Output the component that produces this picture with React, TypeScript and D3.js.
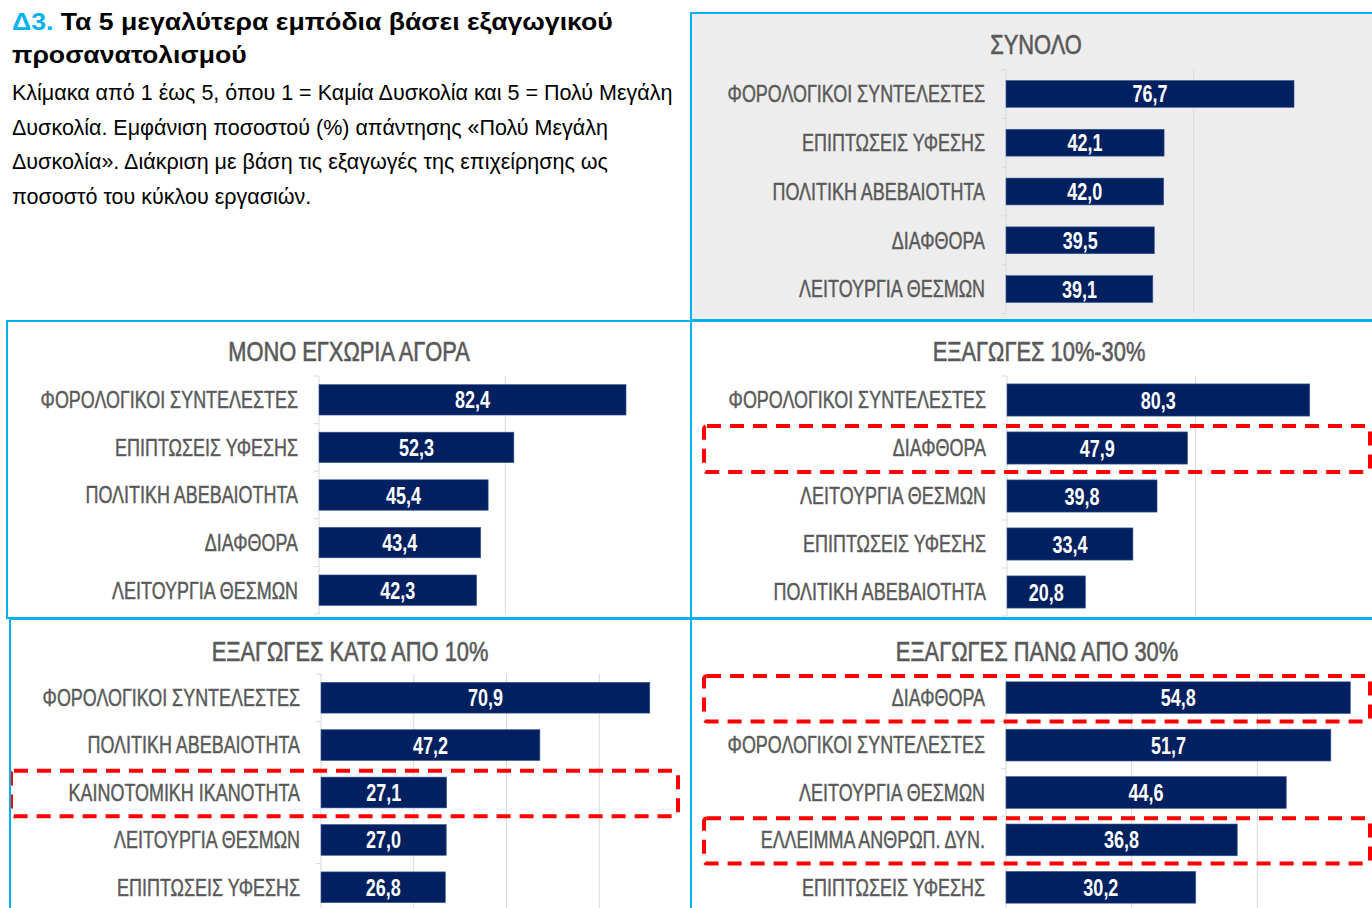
import React from "react";
import * as d3 from "d3";

const panelTitles = [
  "ΣΥΝΟΛΟ",
  "ΜΟΝΟ ΕΓΧΩΡΙΑ ΑΓΟΡΑ",
  "ΕΞΑΓΩΓΕΣ 10%-30%",
  "ΕΞΑΓΩΓΕΣ ΚΑΤΩ ΑΠΟ 10%",
  "ΕΞΑΓΩΓΕΣ ΠΑΝΩ ΑΠΟ 30%",
];

const totalCategories = ["ΦΟΡΟΛΟΓΙΚΟΙ ΣΥΝΤΕΛΕΣΤΕΣ", "ΕΠΙΠΤΩΣΕΙΣ ΥΦΕΣΗΣ", "ΠΟΛΙΤΙΚΗ ΑΒΕΒΑΙΟΤΗΤΑ", "ΔΙΑΦΘΟΡΑ", "ΛΕΙΤΟΥΡΓΙΑ ΘΕΣΜΩΝ"];
const totalValues = [76.7, 42.1, 42.0, 39.5, 39.1];

const domesticCategories = ["ΦΟΡΟΛΟΓΙΚΟΙ ΣΥΝΤΕΛΕΣΤΕΣ", "ΕΠΙΠΤΩΣΕΙΣ ΥΦΕΣΗΣ", "ΠΟΛΙΤΙΚΗ ΑΒΕΒΑΙΟΤΗΤΑ", "ΔΙΑΦΘΟΡΑ", "ΛΕΙΤΟΥΡΓΙΑ ΘΕΣΜΩΝ"];
const domesticValues = [82.4, 52.3, 45.4, 43.4, 42.3];

const midCategories = ["ΦΟΡΟΛΟΓΙΚΟΙ ΣΥΝΤΕΛΕΣΤΕΣ", "ΔΙΑΦΘΟΡΑ", "ΛΕΙΤΟΥΡΓΙΑ ΘΕΣΜΩΝ", "ΕΠΙΠΤΩΣΕΙΣ ΥΦΕΣΗΣ", "ΠΟΛΙΤΙΚΗ ΑΒΕΒΑΙΟΤΗΤΑ"];
const midValues = [80.3, 47.9, 39.8, 33.4, 20.8];

const lowCategories = ["ΦΟΡΟΛΟΓΙΚΟΙ ΣΥΝΤΕΛΕΣΤΕΣ", "ΠΟΛΙΤΙΚΗ ΑΒΕΒΑΙΟΤΗΤΑ", "ΚΑΙΝΟΤΟΜΙΚΗ ΙΚΑΝΟΤΗΤΑ", "ΛΕΙΤΟΥΡΓΙΑ ΘΕΣΜΩΝ", "ΕΠΙΠΤΩΣΕΙΣ ΥΦΕΣΗΣ"];
const lowValues = [70.9, 47.2, 27.1, 27.0, 26.8];

const highCategories = ["ΔΙΑΦΘΟΡΑ", "ΦΟΡΟΛΟΓΙΚΟΙ ΣΥΝΤΕΛΕΣΤΕΣ", "ΛΕΙΤΟΥΡΓΙΑ ΘΕΣΜΩΝ", "ΕΛΛΕΙΜΜΑ ΑΝΘΡΩΠ. ΔΥΝ.", "ΕΠΙΠΤΩΣΕΙΣ ΥΦΕΣΗΣ"];
const highValues = [54.8, 51.7, 44.6, 36.8, 30.2];

const midHighlights = ["ΔΙΑΦΘΟΡΑ"];
const lowHighlights = ["ΚΑΙΝΟΤΟΜΙΚΗ ΙΚΑΝΟΤΗΤΑ"];
const highHighlights = ["ΔΙΑΦΘΟΡΑ", "ΕΛΛΕΙΜΜΑ ΑΝΘΡΩΠ. ΔΥΝ."];

const ticks100 = [0, 50, 100];
const ticks80 = [0, 20, 40, 60, 80];
const ticks60 = [0, 20, 40, 60];

const headingPrefix = "Δ3.";
const headingLines = ["Τα 5 μεγαλύτερα εμπόδια βάσει εξαγωγικού", "προσανατολισμού"];
const bodyLines = [
  "Κλίμακα από 1 έως 5, όπου 1 = Καμία Δυσκολία και 5 = Πολύ Μεγάλη",
  "Δυσκολία. Εμφάνιση ποσοστού (%) απάντησης «Πολύ Μεγάλη",
  "Δυσκολία». Διάκριση με βάση τις εξαγωγές της επιχείρησης ως",
  "ποσοστό του κύκλου εργασιών.",
];

const NAVY = "#002060";
const GRAY = "#595959";
const CYAN = "#00B0F0";
const GRID = "#D9D9D9";
const SANS = "'Liberation Sans', Arial, sans-serif";

type NTextProps = {
  x: number;
  y: number;
  size: number;
  sx: number;
  anchor?: "start" | "middle" | "end";
  weight?: string;
  fill: string;
  halo?: number;
  children: React.ReactNode;
};

function NText({ x, y, size, sx, anchor = "start", weight = "normal", fill, halo = 0, children }: NTextProps) {
  return (
    <text transform={`translate(${x},${y}) scale(${sx},1)`} textAnchor={anchor} fontFamily={SANS}
      fontSize={size} fontWeight={weight} fill={fill}
      stroke={halo > 0 ? fill : "none"} strokeWidth={halo}>
      {children}
    </text>
  );
}

type PanelCfg = {
  title: string;
  cats: string[];
  vals: number[];
  ticks: number[];
  highlights: string[];
  box: { x: number; y: number; w: number; h: number; fill: string };
  titleX: number;
  titleY: number;
  x0: number;
  x1: number;
  y0: number;
  y1: number;
  pad: number;
  hlX0: number;
  hlX1: number;
};

const panels: PanelCfg[] = [
  { title: panelTitles[0], cats: totalCategories, vals: totalValues, ticks: ticks100, highlights: [],
    box: { x: 691, y: 13, w: 690, h: 307, fill: "#EDEDED" }, titleX: 1036, titleY: 54,
    x0: 1006, x1: 1381.5, y0: 69.5, y1: 313.5, pad: 0.45, hlX0: 0, hlX1: 0 },
  { title: panelTitles[1], cats: domesticCategories, vals: domesticValues, ticks: ticks100, highlights: [],
    box: { x: 7, y: 321, w: 684, h: 297, fill: "#FFFFFF" }, titleX: 349, titleY: 361,
    x0: 319, x1: 691.6, y0: 376, y1: 614, pad: 0.36, hlX0: 0, hlX1: 0 },
  { title: panelTitles[2], cats: midCategories, vals: midValues, ticks: ticks100, highlights: midHighlights,
    box: { x: 691, y: 321, w: 690, h: 297, fill: "#FFFFFF" }, titleX: 1039, titleY: 361,
    x0: 1007, x1: 1384, y0: 376, y1: 616, pad: 0.33, hlX0: 704, hlX1: 1370 },
  { title: panelTitles[3], cats: lowCategories, vals: lowValues, ticks: ticks80, highlights: lowHighlights,
    box: { x: 10, y: 619, w: 681, h: 300, fill: "#FFFFFF" }, titleX: 350, titleY: 661,
    x0: 321, x1: 692, y0: 674, y1: 911, pad: 0.35, hlX0: 11, hlX1: 678 },
  { title: panelTitles[4], cats: highCategories, vals: highValues, ticks: ticks60, highlights: highHighlights,
    box: { x: 691, y: 619, w: 690, h: 300, fill: "#FFFFFF" }, titleX: 1037, titleY: 661,
    x0: 1006, x1: 1383, y0: 674, y1: 911, pad: 0.33, hlX0: 704, hlX1: 1370 },
];

function Panel({ p, idx }: { p: PanelCfg; idx: number }) {
  const x = d3.scaleLinear().domain([0, p.ticks[p.ticks.length - 1]]).range([p.x0, p.x1]);
  const y = d3.scaleBand<string>().domain(p.cats).range([p.y0, p.y1]).paddingInner(p.pad).paddingOuter(p.pad / 2);
  const step = y.step();
  const bw = y.bandwidth();
  const fmt = (v: number) => d3.format(".1f")(v).replace(".", ",");
  const clipId = `clip-${idx}`;
  const boundaries = d3.range(p.cats.length + 1).map((i) => p.y0 + i * step);
  return (
    <g>
      <defs>
        <clipPath id={clipId}>
          <rect x={p.box.x} y={p.box.y} width={p.box.w} height={p.box.h} />
        </clipPath>
      </defs>
      <rect x={p.box.x} y={p.box.y} width={p.box.w} height={p.box.h} fill={p.box.fill} />
      <g clipPath={`url(#${clipId})`}>
        {p.ticks.slice(1).map((t) => (
          <line key={t} x1={x(t)} x2={x(t)} y1={p.y0} y2={p.y1} stroke={GRID} strokeWidth={1} />
        ))}
        <line x1={p.x0} x2={p.x0} y1={p.y0} y2={p.y1} stroke={GRID} strokeWidth={1} />
        {boundaries.map((b, i) => (
          <line key={i} x1={p.x0 - 5} x2={p.x0} y1={b} y2={b} stroke={GRID} strokeWidth={1} />
        ))}
        {p.cats.map((c, i) => {
          const cy = (y(c) as number) + bw / 2;
          return (
            <g key={c}>
              <rect x={x(0)} y={y(c)} width={x(p.vals[i]) - x(0)} height={bw} fill={NAVY} stroke="#3A5A9A" strokeWidth={0.6} />
              <NText x={(x(0) + x(p.vals[i])) / 2} y={cy + 8.5} size={24} sx={0.75} anchor="middle" weight="bold" fill="#FFFFFF">
                {fmt(p.vals[i])}
              </NText>
              <NText x={p.x0 - 21} y={cy + 8.3} size={23} sx={0.78} anchor="end" fill={GRAY} halo={0.45}>
                {c}
              </NText>
            </g>
          );
        })}
        <NText x={p.titleX} y={p.titleY} size={27} sx={0.81} anchor="middle" fill={GRAY} halo={0.6}>
          {p.title}
        </NText>
        {p.highlights.map((h) => {
          const bandStart = (y(h) as number) - (step * p.pad) / 2;
          return (
            <rect key={h} x={p.hlX0} y={bandStart + 2} width={p.hlX1 - p.hlX0} height={step - 2}
              fill="none" stroke="#FF0000" strokeWidth={4} strokeDasharray="14 9" rx={3} />
          );
        })}
      </g>
      <rect x={p.box.x} y={p.box.y} width={p.box.w} height={p.box.h} fill="none" stroke={CYAN} strokeWidth={2} />
    </g>
  );
}

export default function App() {
  return (
    <svg width={1372} height={908} style={{ position: "absolute", left: 0, top: 0, background: "#FFFFFF" }}>
      <rect x={0} y={0} width={1372} height={908} fill="#FFFFFF" />
      <NText x={12} y={29.5} size={24} sx={1.11} weight="bold" fill="#000000">
        <tspan fill={CYAN}>{headingPrefix}</tspan>
        <tspan> {headingLines[0]}</tspan>
      </NText>
      <NText x={12} y={63} size={24} sx={1.11} weight="bold" fill="#000000">
        {headingLines[1]}
      </NText>
      {bodyLines.map((l, i) => (
        <NText key={i} x={12} y={100 + i * 34.5} size={21.5} sx={1} fill="#000000">
          {l}
        </NText>
      ))}
      {panels.map((p, i) => (
        <Panel key={i} p={p} idx={i} />
      ))}
    </svg>
  );
}
